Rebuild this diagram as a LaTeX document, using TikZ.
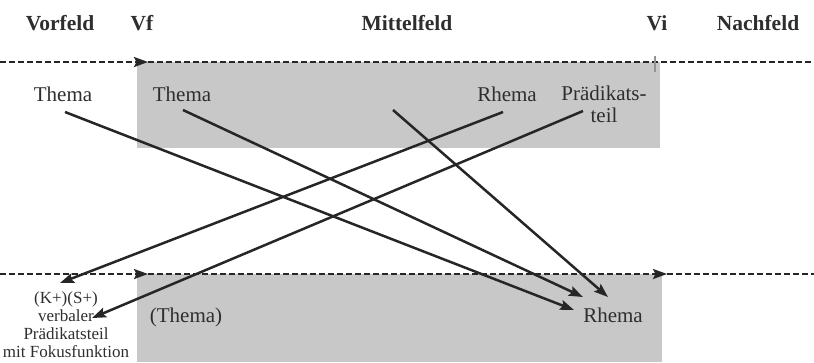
\documentclass[tikz,border=0pt]{standalone}
\usepackage{fontspec}
\setmainfont{Liberation Serif}
\usetikzlibrary{arrows.meta}
\definecolor{ink}{HTML}{262626}
\definecolor{txt}{HTML}{2E2E2E}
\definecolor{field}{HTML}{C8C8C8}
\begin{document}
\begin{tikzpicture}[x=1bp,y=-1bp,
  head/.style={font=\bfseries\fontsize{21.5bp}{24bp}\selectfont, text=txt, inner sep=0pt},
  lbl/.style={font=\fontsize{21bp}{22bp}\selectfont, text=txt, inner sep=0pt, align=center},
  small/.style={font=\fontsize{17bp}{18bp}\selectfont, text=txt, inner sep=0pt, align=center},
  tip/.style={-{Stealth[length=14bp,width=10bp,inset=2.5bp]}},
  conn/.style={draw=ink, line width=2.5bp, tip},
  feldline/.style={draw=ink, line width=2.3bp, dash pattern=on 5.5bp off 3.5bp},
  feldbox/.style={fill=field, draw=none}]

\useasboundingbox (0,0) rectangle (814,362);

% fields
\path[feldbox] (137,62) rectangle (660,148);
\path[feldbox] (137,274) rectangle (662,362);

% headers
\node[head] (vorfeld) at (60,23) {Vorfeld};
\node[head] (vf) at (142,23) {Vf};
\node[head] (mittelfeld) at (407,23) {Mittelfeld};
\node[head] (vi) at (657,23) {Vi};
\node[head] (nachfeld) at (758,23) {Nachfeld};

% dashed lines
\coordinate (tl) at (0,62);
\coordinate (tvf) at (148,62);
\coordinate (tr) at (814,62);
\coordinate (vitop) at (655,56);
\coordinate (vibot) at (655,72);
\draw[feldline, tip] (tl) -- (tvf);
\draw[feldline] (tvf) -- (tr);
\draw[ink!50, line width=1.8bp] (vitop) -- (vibot);

\coordinate (bl) at (0,274);
\coordinate (bvf) at (148,274);
\coordinate (bvi) at (667,274);
\coordinate (br) at (814,274);
\draw[feldline, tip] (bl) -- (bvf);
\draw[feldline, tip] (bvf) -- (bvi);
\draw[feldline] (bvi) -- (br);

% upper labels
\node[lbl] (thema1) at (63,94) {Thema};
\node[lbl] (thema2) at (182,94) {Thema};
\node[lbl] (rhema1) at (507,94) {Rhema};
\node[lbl] (praed) at (604,104.5) {Prädikats-\\teil};

% lower labels
\node[small] (ks) at (66,325) {(K+)(S+)\\verbaler\\Prädikatsteil\\mit Fokusfunktion};
\node[lbl] (thema3) at (186,317) {(Thema)};
\node[lbl] (rhema2) at (613,315) {Rhema};

% connector end points
\coordinate (a1) at (65,112);  \coordinate (a2) at (574,310);
\coordinate (b1) at (183,110); \coordinate (b2) at (583,297);
\coordinate (c1) at (393,110); \coordinate (c2) at (608,297);
\coordinate (d1) at (503,112); \coordinate (d2) at (60,283);
\coordinate (e1) at (583,111); \coordinate (e2) at (92,318);

\draw[conn] (a1) -- (a2);
\draw[conn] (b1) -- (b2);
\draw[conn] (c1) -- (c2);
\draw[conn] (d1) -- (d2);
\draw[conn] (e1) -- (e2);
\end{tikzpicture}
\end{document}
